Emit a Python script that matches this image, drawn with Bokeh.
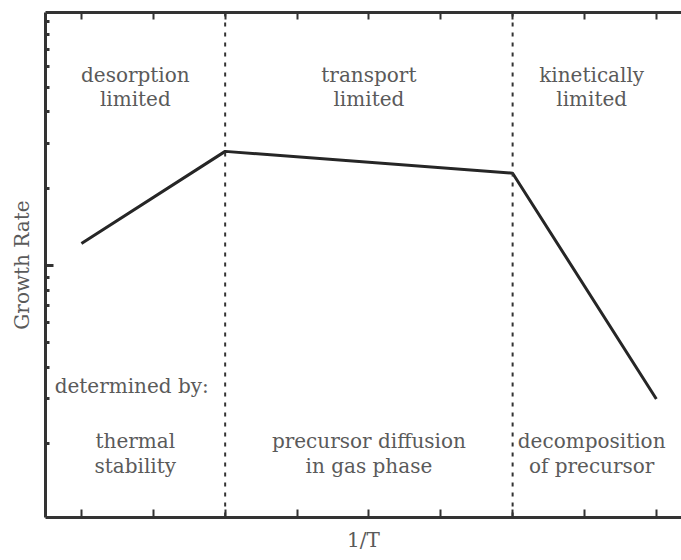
from bokeh.plotting import figure
from bokeh.models import LinearAxis, FixedTicker, Span, Label, Range1d
from bokeh.embed import file_html
from bokeh.resources import INLINE

# Data
x_vals = [1, 3, 7, 9]
growth_rate = [1.22, 2.8, 2.3, 0.30]
boundaries = [3, 7]
x_ticks = [1, 2, 3, 4, 5, 6, 7, 8, 9]
y_major = [0.1, 1, 10]
y_minor = [0.2, 0.3, 0.4, 0.5, 0.6, 0.7, 0.8, 0.9, 2, 3, 4, 5, 6, 7, 8, 9]

FONT = "DejaVu Serif"
TXT = "#5a5a5a"
AX = "#333333"

p = figure(width=681, height=560, x_range=Range1d(0.5, 9.35), y_range=Range1d(0.103, 9.8),
           y_axis_type="log", output_backend="svg", toolbar_location=None,
           min_border_left=45, min_border_top=12, min_border_bottom=43, min_border_right=0)
p.outline_line_color = None
p.grid.visible = False
p.background_fill_color = "white"
p.border_fill_color = "white"

def hide_labels(ax):
    ax.major_label_text_font_size = "1px"
    ax.major_label_text_color = None
    ax.major_label_standoff = 0

def style_x(ax):
    ax.ticker = FixedTicker(ticks=x_ticks)
    ax.major_tick_in = 8
    ax.major_tick_out = 0
    ax.minor_tick_in = 0
    ax.minor_tick_out = 0
    ax.major_tick_line_width = 2
    ax.major_tick_line_color = AX
    hide_labels(ax)
    ax.axis_line_width = 3
    ax.axis_line_color = AX

xa = p.xaxis[0]
style_x(xa)
xa.axis_label = "1/T"
xa.axis_label_text_font = FONT
xa.axis_label_text_font_size = "20px"
xa.axis_label_text_font_style = "normal"
xa.axis_label_text_color = TXT
xa.axis_label_standoff = 10

top = LinearAxis()
style_x(top)
top.major_tick_in = 7
p.add_layout(top, "above")

ya = p.yaxis[0]
ya.ticker = FixedTicker(ticks=y_major, minor_ticks=y_minor)
ya.major_tick_in = 8
ya.major_tick_out = 0
ya.minor_tick_in = 4
ya.minor_tick_out = 0
ya.major_tick_line_width = 3
ya.minor_tick_line_width = 3
ya.major_tick_line_color = AX
ya.minor_tick_line_color = AX
hide_labels(ya)
ya.axis_line_width = 3
ya.axis_line_color = AX
ya.axis_label = "Growth Rate"
ya.axis_label_text_font = FONT
ya.axis_label_text_font_size = "20px"
ya.axis_label_text_font_style = "normal"
ya.axis_label_text_color = TXT
ya.axis_label_standoff = 12

for b in boundaries:
    p.add_layout(Span(location=b, dimension="height", line_dash="4 6", line_width=2, line_color=AX))

p.line(x_vals, growth_rate, line_width=3, line_color="#262626")

def ypix(py):
    return 10 ** ((265 - py) / 255.0)

texts = [
    ("desorption", 1.75, 75), ("limited", 1.75, 99),
    ("transport", 5, 75), ("limited", 5, 99),
    ("kinetically", 8.1, 75), ("limited", 8.1, 99),
    ("determined by:", 1.7, 385),
    ("thermal", 1.75, 440), ("stability", 1.75, 465),
    ("precursor diffusion", 5, 440), ("in gas phase", 5, 465),
    ("decomposition", 8.1, 440), ("of precursor", 8.1, 465),
]
for t, x, py in texts:
    p.add_layout(Label(x=x, y=ypix(py), text=t, text_align="center", text_baseline="middle",
                       text_font=FONT, text_font_size="20px", text_color=TXT))

open("out.html", "w").write(file_html(p, INLINE))
